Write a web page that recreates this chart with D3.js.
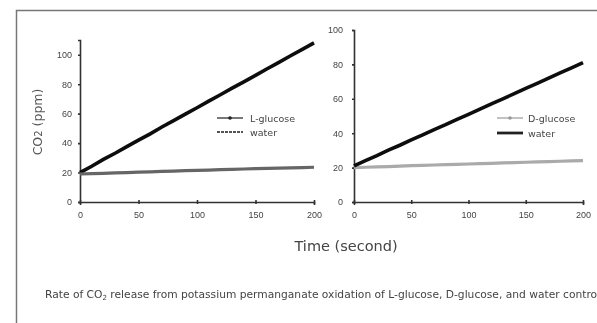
<!DOCTYPE html>
<html>
<head>
<meta charset="utf-8">
<script src="https://cdn.jsdelivr.net/npm/d3@7"></script>
<style>
  body { margin: 0; background: #fff; }
  svg { display: block; font-family: "DejaVu Sans", sans-serif; }
</style>
</head>
<body>
<script>
// time points (s)
const times = [0, 10, 20, 30, 40, 50, 60, 70, 80, 90, 100, 110, 120, 130, 140, 150, 160, 170, 180, 190, 200];
// left panel
const lGlucose = [20, 24.3, 28.9, 33.1, 37.6, 42.0, 46.3, 50.9, 55.2, 59.7, 64.0, 68.5, 72.8, 77.3, 81.6, 86.0, 90.5, 94.8, 99.3, 103.6, 108];
const waterLeft = [19, 19.3, 19.5, 19.8, 20.0, 20.3, 20.5, 20.8, 21.0, 21.3, 21.5, 21.7, 22.0, 22.2, 22.4, 22.6, 22.8, 23.0, 23.2, 23.4, 23.6];
// right panel
const waterRight = [21, 24.1, 27.0, 30.2, 33.0, 36.1, 39.0, 42.1, 45.0, 48.1, 51.0, 54.0, 57.1, 60.0, 63.0, 66.1, 69.0, 72.0, 75.1, 78.0, 81];
const dGlucose = [20, 20.2, 20.4, 20.6, 20.9, 21.1, 21.3, 21.5, 21.7, 21.9, 22.1, 22.3, 22.5, 22.7, 22.9, 23.1, 23.3, 23.5, 23.7, 23.9, 24.1];
const xTicks = [0, 50, 100, 150, 200];
const yTicks = [0, 20, 40, 60, 80, 100];

const svg = d3.select('body').append('svg')
    .attr('width', 597)
    .attr('height', 323);

svg.append('defs').append('filter').attr('id', 'soft')
    .append('feGaussianBlur').attr('stdDeviation', 0.45);

const g = svg.append('g').attr('filter', 'url(#soft)');

// frame
g.append('path')
    .attr('d', 'M16.5,323 V10.5 H597')
    .attr('fill', 'none')
    .attr('stroke', '#777')
    .attr('stroke-width', 1.5);

function panel(cfg) {
    const x = d3.scaleLinear().domain([0, 200]).range([cfg.x0, cfg.x1]);
    const y = d3.scaleLinear().domain([0, cfg.yMax]).range([202, cfg.yTop]);

    const xa = g.append('g')
        .attr('transform', 'translate(0,202)')
        .call(d3.axisBottom(x).tickValues(xTicks).tickSize(3).tickPadding(7));
    const ya = g.append('g')
        .attr('transform', `translate(${cfg.x0},0)`)
        .call(d3.axisLeft(y).tickValues(yTicks).tickSize(2).tickPadding(cfg.pad));
    [xa, ya].forEach(a => {
        a.select('.domain').attr('stroke', '#333').attr('stroke-width', 1.6);
        a.selectAll('.tick line').attr('stroke', '#333').attr('stroke-width', 1.6);
        a.selectAll('text').attr('fill', '#444')
            .style('font-family', '"Liberation Sans", Arial, sans-serif')
            .style('font-size', '9px');
    });
    xa.selectAll('.tick line').attr('y1', -2).attr('y2', 2);

    const line = d3.line()
        .x((d, i) => x(times[i]))
        .y(d => y(d));

    cfg.series.forEach(s => {
        g.append('path')
            .datum(s.values)
            .attr('fill', 'none')
            .attr('stroke', s.color)
            .attr('stroke-width', s.width)
            .attr('d', line);
    });

    // legend
    cfg.series.forEach((s, i) => {
        const ly = cfg.legY + i * cfg.legGap;
        g.append('line')
            .attr('x1', cfg.legX).attr('x2', cfg.legX + 26)
            .attr('y1', ly).attr('y2', ly)
            .attr('stroke', s.legColor)
            .attr('stroke-width', s.legWidth)
            .attr('stroke-dasharray', s.legDash || null);
        if (s.marker) {
            g.append('circle')
                .attr('cx', cfg.legX + 13).attr('cy', ly).attr('r', 1.8)
                .attr('fill', s.legColor);
        }
        g.append('text')
            .attr('x', cfg.legX + cfg.textOff).attr('y', ly + 3.5)
            .attr('fill', '#444')
            .style('font-size', '9.5px')
            .text(s.name);
    });
}

panel({
    x0: 80, x1: 314, yTop: 40, yMax: 110, pad: 6,
    legX: 217, legY: 118, legGap: 14, textOff: 33,
    series: [
        { name: 'L-glucose', values: lGlucose, color: '#111', width: 3.6, legColor: '#222', legWidth: 1.2, marker: true },
        { name: 'water', values: waterLeft, color: '#666', width: 3.2, legColor: '#555', legWidth: 2, legDash: '3,1' }
    ]
});

panel({
    x0: 354, x1: 583, yTop: 30, yMax: 100, pad: 9,
    legX: 497, legY: 118, legGap: 15, textOff: 31,
    series: [
        { name: 'D-glucose', values: dGlucose, color: '#aaa', width: 3.2, legColor: '#999', legWidth: 1.2, marker: true },
        { name: 'water', values: waterRight, color: '#111', width: 3.6, legColor: '#222', legWidth: 2.8 }
    ]
});

// y label
const yl = g.append('text')
    .attr('transform', 'translate(42,122) rotate(-90)')
    .attr('text-anchor', 'middle')
    .attr('fill', '#555')
    .style('font-size', '12.5px');
yl.append('tspan').text('CO');
yl.append('tspan').style('font-size', '10px').text('2');
yl.append('tspan').text(' (ppm)');

g.append('text')
    .attr('x', 346).attr('y', 251)
    .attr('text-anchor', 'middle')
    .attr('fill', '#444')
    .style('font-size', '14.5px')
    .text('Time (second)');

const cap = g.append('text')
    .attr('x', 45).attr('y', 298)
    .attr('fill', '#444')
    .style('font-size', '10.7px');
cap.append('tspan').text('Rate of CO');
cap.append('tspan').attr('dy', 2).style('font-size', '7px').text('2');
cap.append('tspan').attr('dy', -2).text(' release from potassium permanganate oxidation of L-glucose, D-glucose, and water control');
</script>
</body>
</html>
